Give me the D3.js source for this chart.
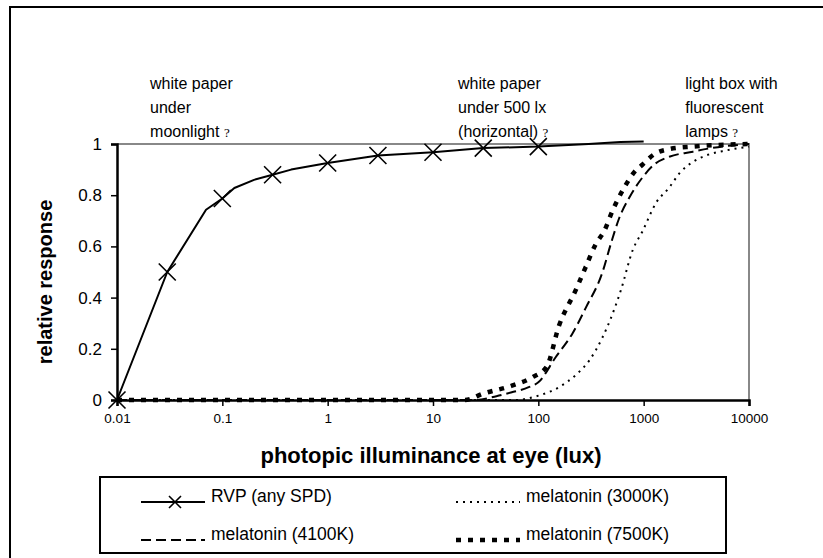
<!DOCTYPE html>
<html>
<head>
<meta charset="utf-8">
<script src="https://cdn.jsdelivr.net/npm/d3@7"></script>
<style>
  html, body { margin: 0; padding: 0; background: #fff; }
  svg { display: block; font-family: "Liberation Sans", Arial, sans-serif; }
</style>
</head>
<body>
<svg id="chart" width="823" height="558"></svg>
<script>
// ---------------- DATA ----------------
const xTicks = [0.01, 0.1, 1, 10, 100, 1000, 10000];
const xTickLabels = ["0.01", "0.1", "1", "10", "100", "1000", "10000"];
const yTicks = [0, 0.2, 0.4, 0.6, 0.8, 1];
const yTickLabels = ["0", "0.2", "0.4", "0.6", "0.8", "1"];

// RVP (any SPD) – curve points and which carry an X marker
const rvpLux    = [0.01, 0.03, 0.07, 0.1, 0.13, 0.2, 0.3, 0.45, 1, 3, 10, 30, 100, 300, 600, 1000];
const rvpValue  = [0, 0.5, 0.743, 0.787, 0.828, 0.86, 0.88, 0.90, 0.926, 0.955, 0.968, 0.984, 0.99, 1.0, 1.008, 1.01];
const rvpMarked = [1, 1, 0, 1, 0, 0, 1, 0, 1, 1, 1, 1, 1, 0, 0, 0];

// melatonin (3000K)
const mel3000Lux   = [0.01, 60, 100, 157, 230, 304, 407, 507, 609, 786, 977, 1310, 1750, 2180, 2930, 4220, 6080, 10000];
const mel3000Value = [0, 0, 0.017, 0.05, 0.1, 0.154, 0.245, 0.337, 0.43, 0.585, 0.66, 0.77, 0.83, 0.885, 0.93, 0.96, 0.975, 0.99];

// melatonin (4100K)
const mel4100Lux   = [0.01, 25, 40, 56, 81, 100, 146, 211, 282, 407, 488, 585, 729, 977, 1260, 1750, 2930, 4530, 10000];
const mel4100Value = [0, 0, 0.015, 0.03, 0.05, 0.069, 0.167, 0.26, 0.36, 0.5, 0.61, 0.71, 0.79, 0.87, 0.92, 0.95, 0.97, 0.985, 1.0];

// melatonin (7500K)
const mel7500Lux   = [0.01, 20, 30, 56, 88, 120, 157, 227, 282, 352, 422, 507, 654, 815, 977, 1260, 1750, 2930, 10000];
const mel7500Value = [0, 0, 0.025, 0.056, 0.089, 0.13, 0.29, 0.43, 0.52, 0.61, 0.66, 0.74, 0.83, 0.89, 0.92, 0.96, 0.98, 0.99, 1.0];

const annotations = [
  { lux: 0.0206, lines: ["white paper", "under", "moonlight ?"] },
  { lux: 17.3,   lines: ["white paper", "under 500 lx", "(horizontal) ?"] },
  { lux: 2480,   lines: ["light box with", "fluorescent", "lamps ?"] }
];

const legendItems = [
  { label: "RVP (any SPD)",     style: "rvp" },
  { label: "melatonin (3000K)", style: "m3000" },
  { label: "melatonin (4100K)", style: "m4100" },
  { label: "melatonin (7500K)", style: "m7500" }
];

// ---------------- STYLES ----------------
const styles = {
  rvp:   { width: 2,   dash: null },
  m3000: { width: 2,   dash: "2,5" },
  m4100: { width: 2,   dash: "10,5" },
  m7500: { width: 4.5, dash: "5,7" }
};

// ---------------- DRAW ----------------
const svg = d3.select("#chart");
const plot = { left: 117, right: 749, top: 144, bottom: 400 };

const x = d3.scaleLog().domain([0.01, 10000]).range([plot.left, plot.right]);
const y = d3.scaleLinear().domain([0, 1]).range([plot.bottom, plot.top]);

// outer frame (extends beyond the picture on right and bottom)
svg.append("rect").attr("x", 10).attr("y", 7).attr("width", 900).attr("height", 700)
  .attr("fill", "none").attr("stroke", "#000").attr("stroke-width", 2);

// grey plot border (top & right)
svg.append("path")
  .attr("d", `M${plot.left},${plot.top}H${plot.right}V${plot.bottom}`)
  .attr("fill", "none").attr("stroke", "#888").attr("stroke-width", 2);

// series lines
const smooth = d3.line().x(d => x(d[0])).y(d => y(d[1])).curve(d3.curveMonotoneX);
const straight = d3.line().x(d => x(d[0])).y(d => y(d[1]));

function drawSeries(luxArr, valArr, st, gen) {
  const pts = luxArr.map((l, i) => [l, valArr[i]]);
  svg.append("path").datum(pts)
    .attr("d", gen)
    .attr("fill", "none").attr("stroke", "#000")
    .attr("stroke-width", styles[st].width)
    .attr("stroke-dasharray", styles[st].dash)
    .attr("stroke-linejoin", "round");
}
drawSeries(mel3000Lux, mel3000Value, "m3000", smooth);
drawSeries(mel4100Lux, mel4100Value, "m4100", smooth);
drawSeries(mel7500Lux, mel7500Value, "m7500", smooth);
drawSeries(rvpLux, rvpValue, "rvp", straight);

// axes
const xAxis = d3.axisBottom(x).tickValues(xTicks)
  .tickFormat((d, i) => xTickLabels[i]).tickSize(6).tickPadding(7);
const gx = svg.append("g").attr("transform", `translate(0,${plot.bottom})`).call(xAxis);
gx.select(".domain").attr("stroke", "#000").attr("stroke-width", 2.5);
gx.selectAll(".tick line").attr("stroke", "#000").attr("stroke-width", 1.5);
gx.selectAll("text").attr("font-size", 13.5).attr("fill", "#000")
  .attr("font-family", "Liberation Sans, Arial, sans-serif");

const yAxis = d3.axisLeft(y).tickValues(yTicks)
  .tickFormat((d, i) => yTickLabels[i]).tickSize(6).tickPadding(9);
const gy = svg.append("g").attr("transform", `translate(${plot.left},0)`).call(yAxis);
gy.select(".domain").attr("stroke", "#000").attr("stroke-width", 2.5);
gy.selectAll(".tick line").attr("stroke", "#000").attr("stroke-width", 1.5);
gy.selectAll("text").attr("font-size", 17).attr("fill", "#000")
  .attr("font-family", "Liberation Sans, Arial, sans-serif");

// markers (X)
function xMarker(g, cx, cy, r) {
  g.append("path")
    .attr("d", `M${cx - r},${cy - r}L${cx + r},${cy + r}M${cx - r},${cy + r}L${cx + r},${cy - r}`)
    .attr("stroke", "#000").attr("stroke-width", 1.6).attr("fill", "none");
}
const mk = svg.append("g");
rvpLux.forEach((l, i) => { if (rvpMarked[i]) xMarker(mk, x(l), y(rvpValue[i]), 8.5); });

// axis titles
svg.append("text")
  .attr("x", 431).attr("y", 463)
  .attr("text-anchor", "middle").attr("font-size", 22).attr("font-weight", "bold")
  .text("photopic illuminance at eye (lux)");
svg.append("text")
  .attr("transform", `translate(52,282) rotate(-90)`)
  .attr("text-anchor", "middle").attr("font-size", 20).attr("font-weight", "bold")
  .text("relative response");

// annotations
annotations.forEach(a => {
  const t = svg.append("text").attr("font-size", 16).attr("fill", "#000");
  a.lines.forEach((ln, i) => {
    const q = ln.endsWith(" ?");
    t.append("tspan").attr("x", x(a.lux)).attr("y", 89 + i * 24)
      .text(q ? ln.slice(0, -1) : ln);
    if (q) t.append("tspan").attr("font-family", "Liberation Serif, serif").attr("font-size", 13).text("?");
  });
});

// legend
const lg = svg.append("g");
lg.append("rect").attr("x", 100).attr("y", 477).attr("width", 626).attr("height", 76)
  .attr("fill", "#fff").attr("stroke", "#000").attr("stroke-width", 2);
const legendPos = [
  { x: 141, y: 502 }, { x: 456, y: 502 },
  { x: 141, y: 540 }, { x: 456, y: 540 }
];
const legendOrder = ["rvp", "m3000", "m4100", "m7500"];
legendOrder.forEach((st, i) => {
  const item = legendItems.find(d => d.style === st);
  const p = legendPos[i];
  lg.append("line").attr("x1", p.x).attr("x2", p.x + 64).attr("y1", p.y).attr("y2", p.y)
    .attr("stroke", "#000").attr("stroke-width", styles[st].width)
    .attr("stroke-dasharray", styles[st].dash);
  if (st === "rvp") xMarker(lg, p.x + 34, p.y, 6);
  lg.append("text").attr("x", p.x + 70).attr("y", p.y)
    .attr("font-size", 17.5).attr("fill", "#000").text(item.label);
});
</script>
</body>
</html>
